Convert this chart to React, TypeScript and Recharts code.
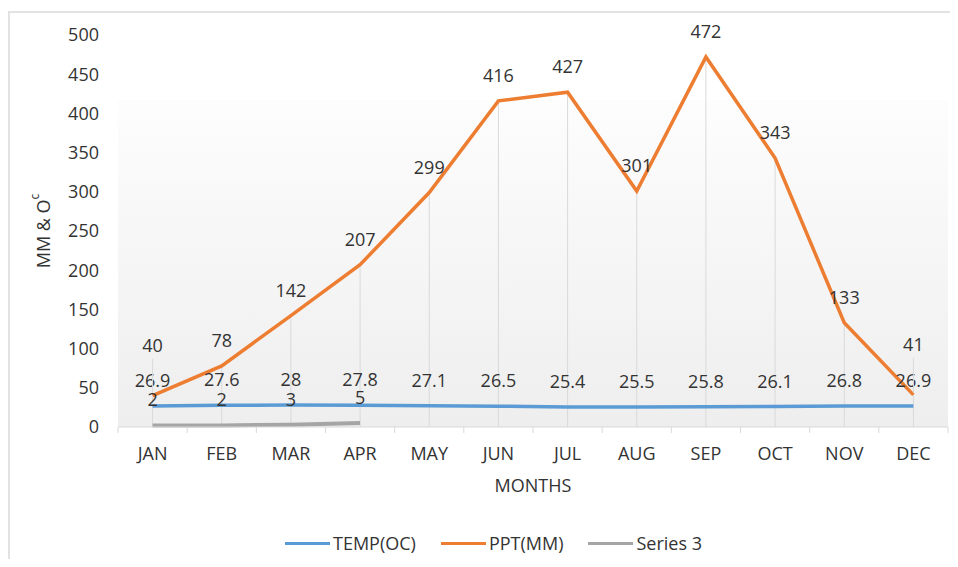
import React from "react";
import {
  LineChart,
  Line,
  XAxis,
  YAxis,
  CartesianGrid,
  ReferenceLine,
  LabelList,
} from "recharts";

const months = ["JAN", "FEB", "MAR", "APR", "MAY", "JUN", "JUL", "AUG", "SEP", "OCT", "NOV", "DEC"];
const tempOC = [26.9, 27.6, 28, 27.8, 27.1, 26.5, 25.4, 25.5, 25.8, 26.1, 26.8, 26.9];
const pptMM = [40, 78, 142, 207, 299, 416, 427, 301, 472, 343, 133, 41];
const series3 = [2, 2, 3, 5];
const yTicks = [0, 50, 100, 150, 200, 250, 300, 350, 400, 450, 500];

const seriesNames = ["TEMP(OC)", "PPT(MM)", "Series 3"];
const seriesColors = ["#5b9bd5", "#ed7d31", "#a5a5a5"];

const W = 958;
const H = 567;
const LEFT = 118;
const RIGHT = 10;
const STEP = (W - LEFT - RIGHT) / months.length;
const FONT = "'Open Sans', sans-serif";
const TEXT = "#333333";
const AXIS = "#d9d9d9";

const data = months.map((m, i) => ({
  month: m,
  temp: tempOC[i],
  ppt: pptMM[i],
  s3: i < series3.length ? series3[i] : null,
}));

// labels sit ~26px above the point; JAN/DEC rain labels are pushed up with a leader line
function makeLabel(moved: number[] = []) {
  return (props: any) => {
    const { x, y, value, index } = props;
    if (value === null || value === undefined) return null;
    const lifted = moved.includes(index);
    const ty = lifted ? y - 51 : y - 26;
    return (
      <g>
        {lifted && <line x1={x} x2={x} y1={y - 37} y2={y - 2} stroke={AXIS} strokeWidth={1} />}
        <text
          x={x}
          y={ty}
          textAnchor="middle"
          dominantBaseline="central"
          fontSize={18}
          fontFamily={FONT}
          fill={TEXT}
        >
          {value}
        </text>
      </g>
    );
  };
}

function MonthTick(props: any) {
  const { x, y, payload, index } = props;
  return (
    <g>
      <line x1={x - STEP / 2} x2={x - STEP / 2} y1={y} y2={y + 6} stroke={AXIS} />
      {index === months.length - 1 && (
        <line x1={x + STEP / 2} x2={x + STEP / 2} y1={y} y2={y + 6} stroke={AXIS} />
      )}
      <text
        x={x}
        y={y + 26}
        textAnchor="middle"
        dominantBaseline="central"
        fontSize={18}
        fontFamily={FONT}
        fill={TEXT}
      >
        {payload.value}
      </text>
    </g>
  );
}

export default function App() {
  return (
    <div style={{ position: "relative", width: W, height: H, margin: -8, overflow: "hidden", background: "#fff", fontFamily: FONT }}>
      <svg width={0} height={0} style={{ position: "absolute" }}>
        <defs>
          <linearGradient id="plotBg" x1="0" y1="0" x2="0" y2="1">
            <stop offset="0" stopColor="#ffffff" />
            <stop offset="0.166" stopColor="#ffffff" />
            <stop offset="0.167" stopColor="#fdfdfd" />
            <stop offset="1" stopColor="#eeeeee" />
          </linearGradient>
        </defs>
      </svg>
      <div
        style={{
          position: "absolute",
          left: 8,
          top: 11,
          width: W,
          height: H,
          borderLeft: "2px solid #e2e2e2",
          borderTop: "2px solid #e2e2e2",
        }}
      />
      <div style={{ position: "absolute", left: 0, top: 0 }}>
        <LineChart width={W} height={H} data={data} margin={{ top: 35, right: RIGHT, bottom: 110, left: 0 }}>
          <CartesianGrid horizontal={false} vertical={false} fill="url(#plotBg)" />
          <XAxis
            dataKey="month"
            height={30}
            padding={{ left: STEP / 2, right: STEP / 2 }}
            axisLine={{ stroke: AXIS }}
            tickLine={false}
            tickSize={0}
            tickMargin={0}
            tick={<MonthTick />}
            interval={0}
            label={{
              content: (p: any) => (
                <text
                  x={p.viewBox.x + p.viewBox.width / 2}
                  y={p.viewBox.y + 58}
                  textAnchor="middle"
                  dominantBaseline="central"
                  fontSize={18}
                  fontFamily={FONT}
                  fill={TEXT}
                >
                  MONTHS
                </text>
              ),
            }}
          />
          <YAxis
            width={LEFT}
            domain={[0, 500]}
            ticks={yTicks}
            axisLine={false}
            tickLine={false}
            tickSize={0}
            tickMargin={19}
            tick={{ fontSize: 18, fontFamily: FONT, fill: TEXT }}
            label={{
              content: (p: any) => {
                const cy = p.viewBox.y + p.viewBox.height / 2;
                return (
                  <text
                    x={43}
                    y={cy}
                    transform={`rotate(-90, 43, ${cy})`}
                    textAnchor="middle"
                    dominantBaseline="central"
                    fontSize={18}
                    fontFamily={FONT}
                    fill={TEXT}
                  >
                    MM &amp; O
                    <tspan baselineShift="super" fontSize={12}>c</tspan>
                  </text>
                );
              },
            }}
          />
          {months.map((m, i) => (
            <ReferenceLine
              key={m}
              segment={[
                { x: m, y: 0 },
                { x: m, y: pptMM[i] },
              ]}
              stroke={AXIS}
              strokeWidth={1}
            />
          ))}
          <Line
            dataKey="temp"
            name={seriesNames[0]}
            stroke={seriesColors[0]}
            strokeWidth={3.5}
            dot={false}
            type="linear"
            isAnimationActive={false}
          >
            <LabelList dataKey="temp" content={makeLabel()} />
          </Line>
          <Line
            dataKey="ppt"
            name={seriesNames[1]}
            stroke={seriesColors[1]}
            strokeWidth={3.5}
            dot={false}
            type="linear"
            isAnimationActive={false}
          >
            <LabelList dataKey="ppt" content={makeLabel([0, 11])} />
          </Line>
          <Line
            dataKey="s3"
            name={seriesNames[2]}
            stroke={seriesColors[2]}
            strokeWidth={4}
            dot={false}
            type="linear"
            connectNulls={false}
            isAnimationActive={false}
          >
            <LabelList dataKey="s3" content={makeLabel()} />
          </Line>
        </LineChart>
      </div>
      <div style={{ position: "absolute", left: 285, top: 530, height: 26, display: "flex", alignItems: "center" }}>
        {seriesNames.map((n, i) => (
          <div key={n} style={{ display: "flex", alignItems: "center", marginRight: 25 }}>
            <span style={{ display: "inline-block", width: 45, height: 3, background: seriesColors[i] }} />
            <span style={{ marginLeft: 3, fontSize: 18, color: TEXT, lineHeight: "26px" }}>{n}</span>
          </div>
        ))}
      </div>
    </div>
  );
}
